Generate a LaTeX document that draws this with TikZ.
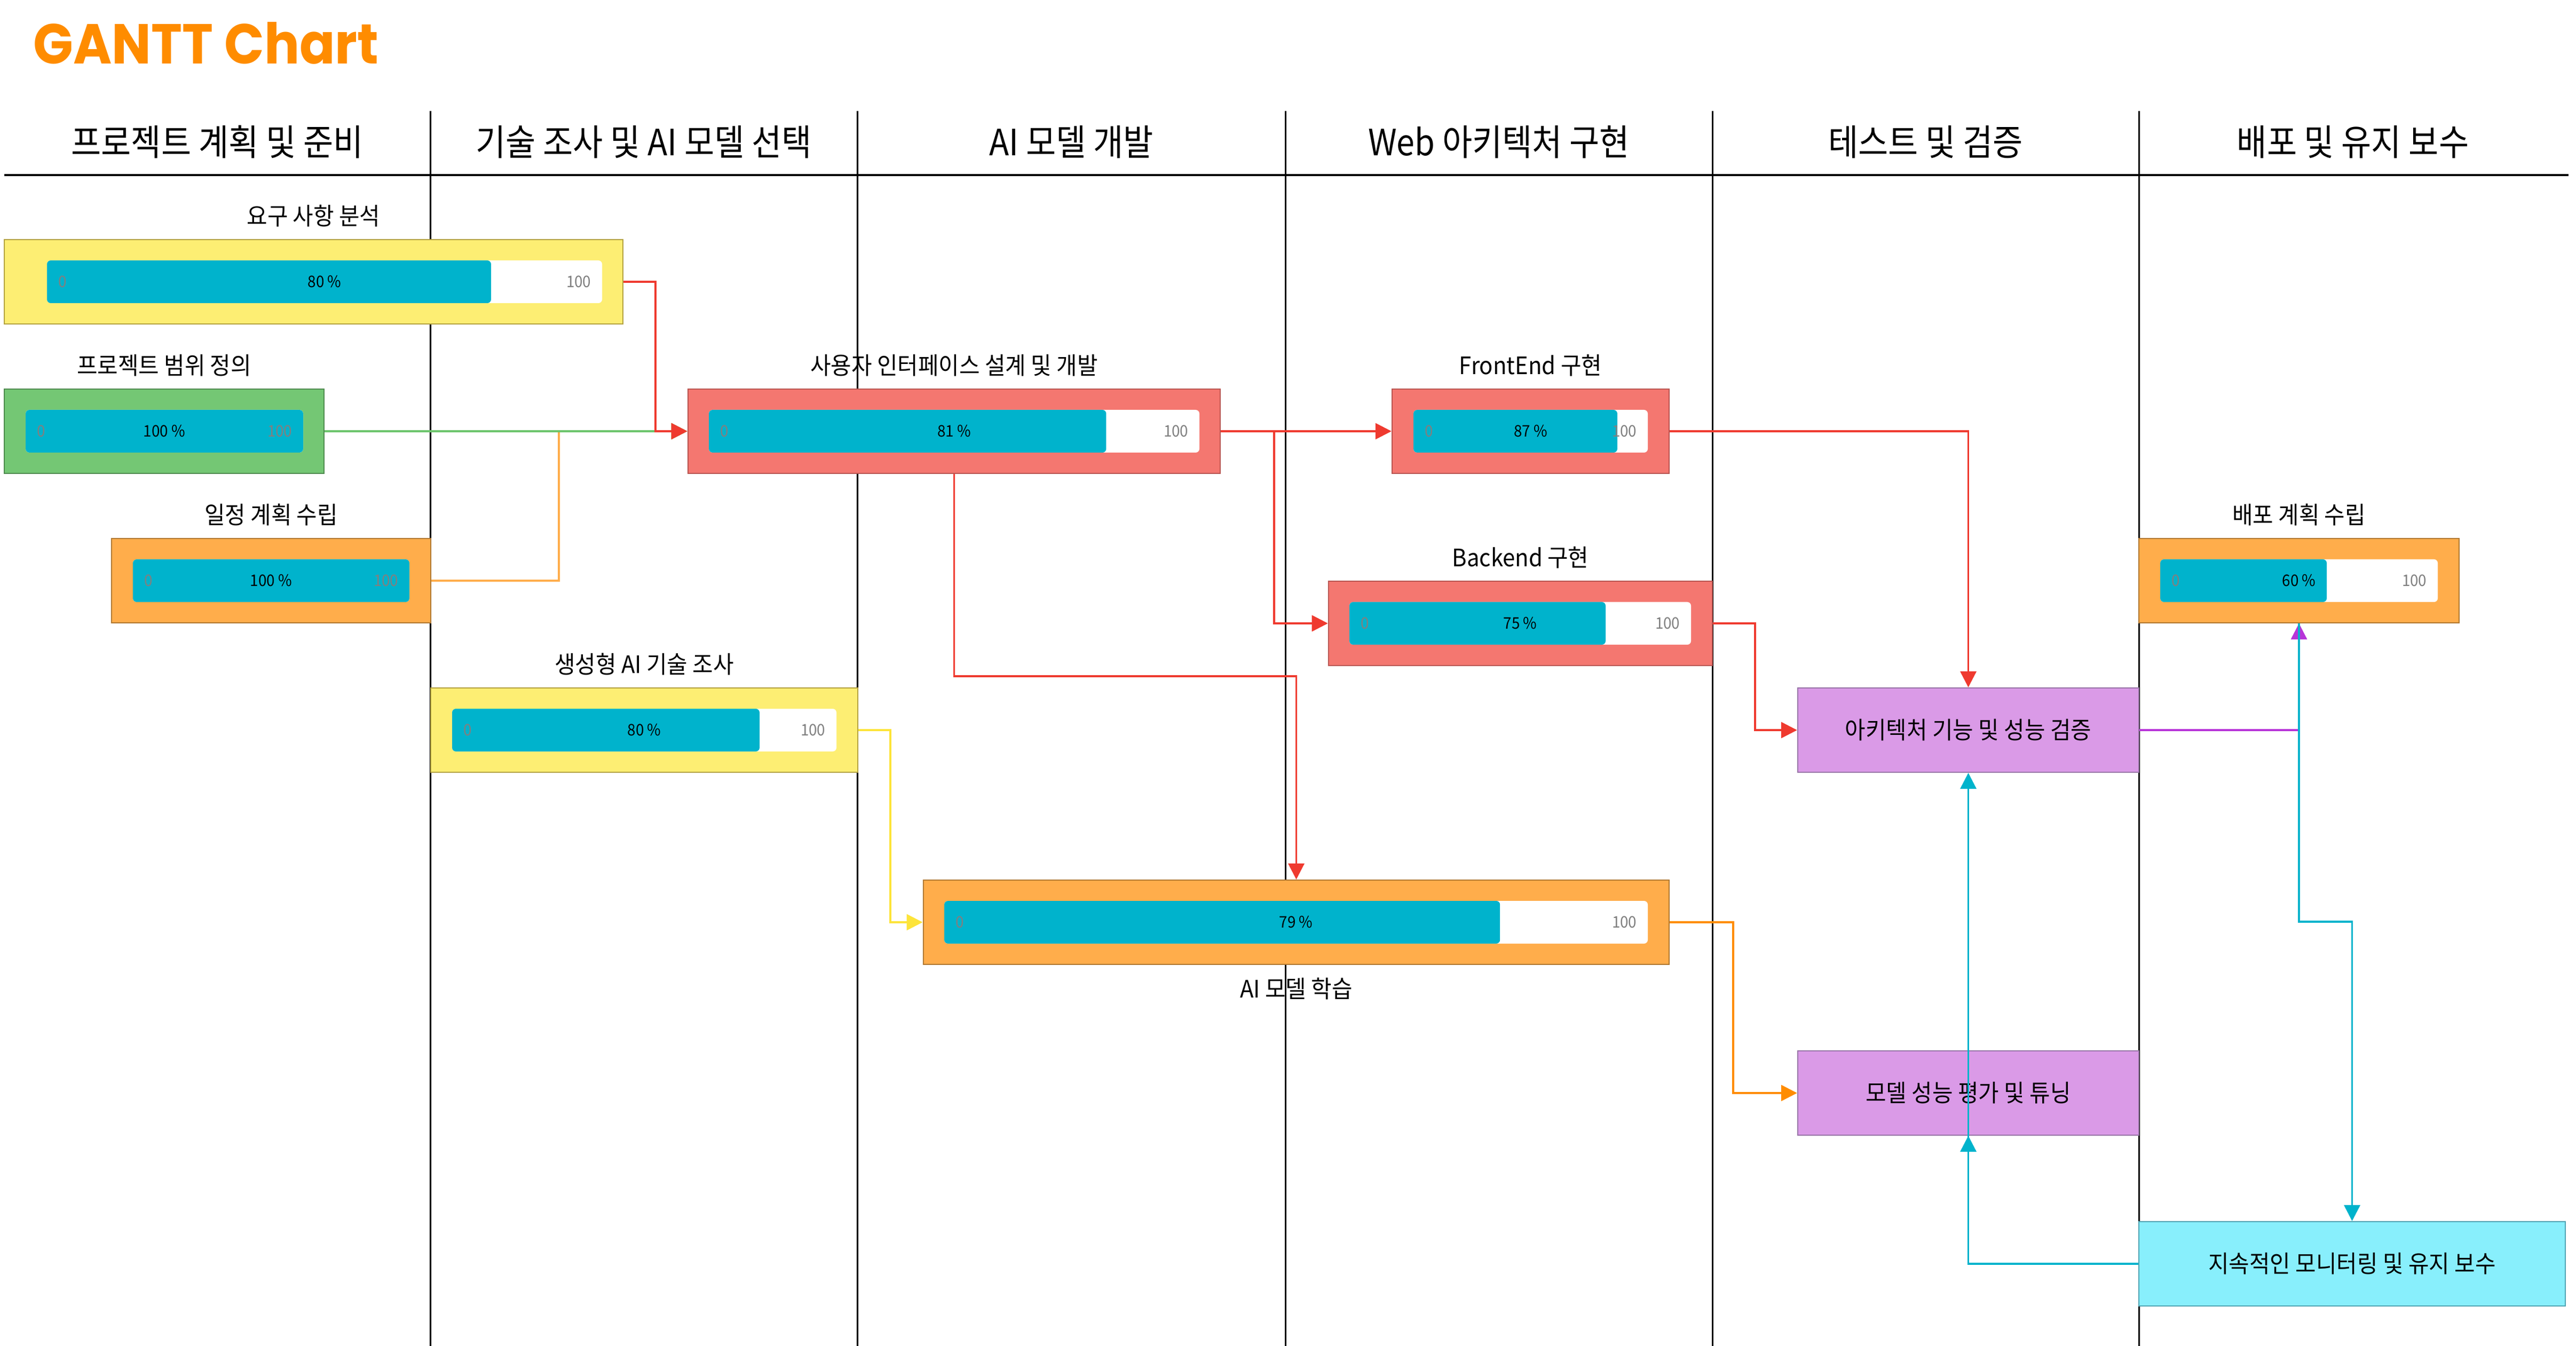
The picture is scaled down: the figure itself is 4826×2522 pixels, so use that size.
\documentclass[tikz,border=0pt]{standalone}
\usepackage{fontspec}
\setmainfont{Noto Sans CJK KR}[FakeStretch=0.93]
\newfontfamily\headfont{Noto Sans CJK KR}[FakeStretch=0.90]
\newfontfamily\titlefont{Poppins}[FakeStretch=0.93]
\usepackage{tikz}
\usetikzlibrary{calc}
\usetikzlibrary{positioning}
\usetikzlibrary{arrows.meta}

\definecolor{yfill}{HTML}{FDEE73}
\definecolor{ydraw}{HTML}{B3A13F}
\definecolor{gfill}{HTML}{74C774}
\definecolor{gdraw}{HTML}{4E8A4E}
\definecolor{ofill}{HTML}{FFAD4B}
\definecolor{odraw}{HTML}{B0772F}
\definecolor{rfill}{HTML}{F47770}
\definecolor{rdraw}{HTML}{B85450}
\definecolor{pfill}{HTML}{DA9AE7}
\definecolor{pdraw}{HTML}{9673A6}
\definecolor{cfill}{HTML}{88EFFC}
\definecolor{cdraw}{HTML}{4FA3B3}
\definecolor{barcyan}{HTML}{00B3CC}
\definecolor{bargrey}{HTML}{808080}
\definecolor{titleorange}{HTML}{FF8C00}
\definecolor{linkred}{HTML}{EF3A2F}
\definecolor{linkgreen}{HTML}{6CC46C}
\definecolor{linkorange}{HTML}{FFAD4B}
\definecolor{linkdorange}{HTML}{FF8C00}
\definecolor{linkyellow}{HTML}{FDE43A}
\definecolor{linkpurple}{HTML}{B734D8}
\definecolor{linkcyan}{HTML}{00B3CC}

\tikzset{
  taskbox/.style={rectangle, inner sep=0pt, minimum height=1.58cm, line width=0.6pt, font=\fontsize{12.8}{15}\selectfont},
  tasklabel/.style={inner sep=0pt, font=\fontsize{12.8}{15}\selectfont},
  colhead/.style={inner sep=0pt, font=\headfont\fontsize{19.3}{22}\selectfont},
  bartext/.style={inner sep=0pt, font=\fontsize{8.5}{10}\selectfont},
  barend/.style={bartext, text=bargrey},
  link/.style={line width=1pt, ->},
}

\begin{document}
\begin{tikzpicture}[x=0.01cm, y=-0.01cm, >={Triangle[length=0.3cm,width=0.3cm]}]
\useasboundingbox (0,0) rectangle (4826,2522);

\node[anchor=base west, inner sep=0pt, text=titleorange, font=\titlefont\bfseries\fontsize{30}{36}\selectfont] (title) at (62,120) {GANTT Chart};

\draw[line width=1.15pt] (8,328) -- (4812,328);
\foreach \x in {806,1606,2408,3208,4007}
  \draw[line width=0.85pt] (\x,208) -- (\x,2522);

\node[colhead] (h1) at (407,266) {프로젝트 계획 및 준비};
\node[colhead] (h2) at (1206,266) {기술 조사 및 AI 모델 선택};
\node[colhead] (h3) at (2007,266) {AI 모델 개발};
\node[colhead] (h4) at (2808,266) {Web 아키텍처 구현};
\node[colhead] (h5) at (3607.5,266) {테스트 및 검증};
\node[colhead] (h6) at (4408,266) {배포 및 유지 보수};

\node[taskbox, fill=yfill, draw=ydraw, minimum width=11.59cm] (req) at (587.5,528) {};
\node[taskbox, fill=gfill, draw=gdraw, minimum width=5.99cm] (scope) at (307.5,808) {};
\node[taskbox, fill=ofill, draw=odraw, minimum width=5.98cm] (sched) at (508,1088) {};
\node[taskbox, fill=rfill, draw=rdraw, minimum width=9.97cm] (ui) at (1787.5,808) {};
\node[taskbox, fill=rfill, draw=rdraw, minimum width=5.19cm] (front) at (2867.5,808) {};
\node[taskbox, fill=rfill, draw=rdraw, minimum width=7.19cm] (back) at (2848.5,1168) {};
\node[taskbox, fill=yfill, draw=ydraw, minimum width=8.00cm] (genai) at (1207,1368) {};
\node[taskbox, fill=ofill, draw=odraw, minimum width=13.97cm] (train) at (2428.5,1728) {};
\node[taskbox, fill=ofill, draw=odraw, minimum width=6.00cm] (deploy) at (4307,1088) {};
\node[taskbox, fill=pfill, draw=pdraw, minimum width=6.39cm] (verify) at (3687.5,1368) {아키텍처 기능 및 성능 검증};
\node[taskbox, fill=pfill, draw=pdraw, minimum width=6.39cm] (tune) at (3687.5,2048) {모델 성능 평가 및 튜닝};
\node[taskbox, fill=cfill, draw=cdraw, minimum width=7.99cm] (monitor) at (4406.5,2368) {지속적인 모니터링 및 유지 보수};

\node[tasklabel, above=0.22cm of req] (req-t) {요구 사항 분석};
\node[tasklabel, above=0.22cm of scope] (scope-t) {프로젝트 범위 정의};
\node[tasklabel, above=0.22cm of sched] (sched-t) {일정 계획 수립};
\node[tasklabel, above=0.22cm of ui] (ui-t) {사용자 인터페이스 설계 및 개발};
\node[tasklabel, above=0.22cm of front] (front-t) {FrontEnd 구현};
\node[tasklabel, above=0.22cm of back] (back-t) {Backend 구현};
\node[tasklabel, above=0.22cm of genai] (genai-t) {생성형 AI 기술 조사};
\node[tasklabel, above=0.22cm of deploy] (deploy-t) {배포 계획 수립};
\node[tasklabel, below=0.23cm of train] (train-t) {AI 모델 학습};

\foreach \n/\xl/\xr/\y/\p in {req/88/1128/528/80, scope/48/568/808/100, sched/249/767/1088/100,
    ui/1328/2247/808/81, front/2648/3087/808/87, back/2528/3168/1168/75,
    genai/847/1567/1368/80, train/1769/3087/1728/79, deploy/4047/4567/1088/60}{
  \fill[white, rounded corners=2pt] (\xl,\y-40) rectangle (\xr,\y+40);
  \fill[barcyan, rounded corners=2pt] (\xl,\y-40) rectangle ({\xl+(\xr-\xl)*(\p/100)},\y+40);
  \node[barend, anchor=west] (\n-lo) at (\xl+21,\y) {0};
  \node[bartext] (\n-pct) at ({(\xl+\xr)/2},\y) {\p{} \%};
  \node[barend, anchor=east] (\n-hi) at (\xr-20,\y) {100};
}

\coordinate (j1) at (1228,808);
\coordinate (j2) at (1047,808);
\coordinate (j3) at (2387,1168);
\coordinate (j4) at (2428.5,1267);
\coordinate (j5) at (1668,1728);
\coordinate (j6) at (3288,1368);
\coordinate (j7) at (3247,2048);
\coordinate (j8) at (4307,1727);

\draw[link, linkorange] (sched.east) -| (j2) -- (ui.west);
\draw[link, linkgreen] (scope.east) -- (ui.west);
\draw[link, linkred] (req.east) -| (j1) -- (ui.west);
\draw[link, linkred] (ui.east) -- (front.west);
\draw[link, linkred] (ui.east) -| (j3) -- (back.west);
\draw[link, linkred] (ui.south) |- (j4) -- (train.north);
\draw[link, linkyellow] (genai.east) -| (j5) -- (train.west);
\draw[link, linkred] (front.east) -| (verify.north);
\draw[link, linkred] (back.east) -| (j6) -- (verify.west);
\draw[link, linkdorange] (train.east) -| (j7) -- (tune.west);
\draw[link, linkpurple] (verify.east) -| (deploy.south);
\draw[link, linkcyan] (deploy.south) -- (j8) -| (monitor.north);
\draw[link, linkcyan] (monitor.west) -| (tune.south);
\draw[link, linkcyan] (monitor.west) -| (verify.south);
\end{tikzpicture}
\end{document}
